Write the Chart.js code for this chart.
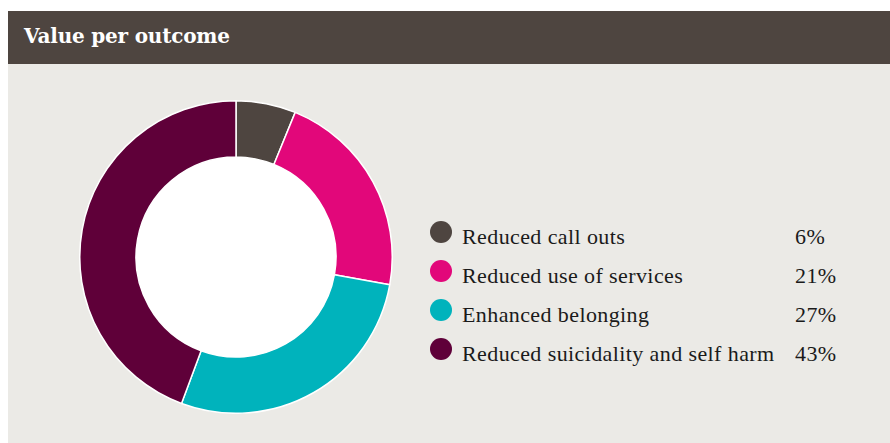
<!DOCTYPE html>
<html>
<head>
<meta charset="utf-8">
<script src="https://cdn.jsdelivr.net/npm/chart.js@4/dist/chart.umd.min.js"></script>
<style>
  html, body { margin: 0; padding: 0; background: #ffffff; width: 890px; height: 443px; overflow: hidden; }
  #panel { position: absolute; left: 8px; top: 11px; width: 882px; height: 432px; background: #EBEAE6; }
  #title { position: absolute; left: 0; top: 0; width: 882px; height: 53px; background: #4E4540; }
  #title span { position: absolute; left: 16px; top: 13px; color: #ffffff; font-family: "DejaVu Serif", serif; font-weight: bold; font-size: 20px; letter-spacing: -0.2px; }
  #chartBox { position: absolute; left: 71px; top: 89px; width: 314px; height: 314px; }
  #legend { position: absolute; left: 0; top: 0; }
  .dot { position: absolute; width: 22px; height: 22px; border-radius: 50%; }
  .lbl, .pct { position: absolute; font-family: "Liberation Serif", serif; font-size: 22px; letter-spacing: 0.4px; color: #1a1a1a; white-space: nowrap; }
</style>
</head>
<body>
<div id="panel">
  <div id="title"><span>Value per outcome</span></div>
  <div id="chartBox"><canvas id="c"></canvas></div>
  <div id="legend"></div>
</div>
<script>
const categories = ["Reduced call outs", "Reduced use of services", "Enhanced belonging", "Reduced suicidality and self harm"];
const values = [6, 21, 27, 43];
const valueLabels = ["6%", "21%", "27%", "43%"];
const colors = ["#4E4540", "#E2077A", "#00B3BC", "#5F0039"];

const holePlugin = {
  id: 'hole',
  afterDatasetsDraw(chart) {
    const meta = chart.getDatasetMeta(0);
    const arc = meta.data[0];
    if (!arc) return;
    const ctx = chart.ctx;
    ctx.save();
    ctx.beginPath();
    ctx.arc(arc.x, arc.y, arc.innerRadius, 0, Math.PI * 2);
    ctx.fillStyle = '#ffffff';
    ctx.fill();
    ctx.restore();
  }
};

new Chart(document.getElementById('c'), {
  type: 'doughnut',
  data: {
    labels: categories,
    datasets: [{
      data: values,
      backgroundColor: colors,
      borderColor: '#ffffff',
      borderWidth: 1.5,
      hoverOffset: 0
    }]
  },
  options: {
    responsive: true,
    maintainAspectRatio: false,
    animation: false,
    cutout: '64%',
    layout: { padding: 0 },
    plugins: { legend: { display: false }, tooltip: { enabled: false } }
  },
  plugins: [holePlugin]
});

const legend = document.getElementById('legend');
categories.forEach((name, i) => {
  const y = 210 + i * 39;
  const dot = document.createElement('div');
  dot.className = 'dot';
  dot.style.left = (441 - 8 - 11) + 'px';
  dot.style.top = (y) + 'px';
  dot.style.background = colors[i];
  legend.appendChild(dot);
  const lbl = document.createElement('div');
  lbl.className = 'lbl';
  lbl.textContent = name;
  lbl.style.left = (462 - 8) + 'px';
  lbl.style.top = (y + 3) + 'px';
  legend.appendChild(lbl);
  const pct = document.createElement('div');
  pct.className = 'pct';
  pct.textContent = valueLabels[i];
  pct.style.left = (795 - 8) + 'px';
  pct.style.top = (y + 3) + 'px';
  legend.appendChild(pct);
});
</script>
</body>
</html>
